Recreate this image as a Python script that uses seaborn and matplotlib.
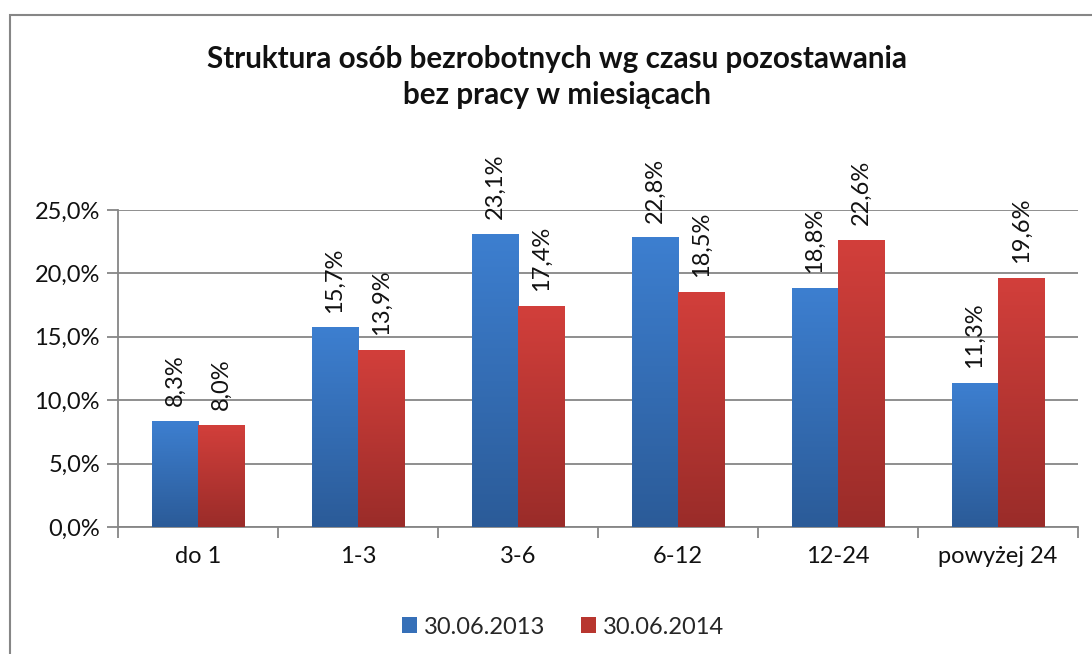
import numpy as np
import pandas as pd
import matplotlib
matplotlib.use("Agg")
import matplotlib.pyplot as plt
from matplotlib.patches import Rectangle, Patch
from matplotlib.colors import LinearSegmentedColormap
import seaborn as sns

categories = ["do 1", "1-3", "3-6", "6-12", "12-24", "powyżej 24"]
series_names = ["30.06.2013", "30.06.2014"]
values_2013 = [8.3, 15.7, 23.1, 22.8, 18.8, 11.3]
values_2014 = [8.0, 13.9, 17.4, 18.5, 22.6, 19.6]
y_ticks = [0, 5, 10, 15, 20, 25]
title = "Struktura osób bezrobotnych wg czasu pozostawania\nbez pracy w miesiącach"

sns.set_theme(style="white")
plt.rcParams["font.family"] = ["Lato", "DejaVu Sans"]

df = pd.DataFrame({
    "cat": categories * 2,
    "series": [series_names[0]] * 6 + [series_names[1]] * 6,
    "val": values_2013 + values_2014,
})

top_cols = ["#3d7fd0", "#d23f3b"]
bot_cols = ["#2b5b98", "#9a2c29"]
mid_cols = ["#3670b8", "#b8362f"]
FS = 17

fig = plt.figure(figsize=(10.92, 6.54), dpi=100)
ax = fig.add_axes([118/1092, 1-527/654, (1078-118)/1092, (527-210)/654])

sns.barplot(data=df, x="cat", y="val", hue="series", order=categories,
            hue_order=series_names, palette=mid_cols, width=0.58, gap=0,
            ax=ax, legend=False, zorder=3, linewidth=0)

# gradient fill
for ci, cont in enumerate(ax.containers):
    cmap = LinearSegmentedColormap.from_list("g%d" % ci, [bot_cols[ci], top_cols[ci]])
    for bar in cont:
        x = bar.get_x(); w = bar.get_width(); h = bar.get_height()
        grad = np.linspace(0, 1, 256).reshape(-1, 1)
        ax.imshow(grad, extent=[x, x + w, 0, h], origin="lower", aspect="auto",
                  cmap=cmap, zorder=3.5)
        bar.set_facecolor("none")
        txt = f"{h:.1f}%".replace(".", ",")
        ax.annotate(txt, (x + w/2, h), xytext=(0, 11), textcoords="offset points",
                    rotation=90, ha="center", va="bottom", fontsize=FS,
                    color="#111111", zorder=5)

ax.set_ylim(0, 25)
ax.set_xlim(-0.5, 5.5)

gray = "#868686"
ax.set_yticks(y_ticks)
ax.set_yticklabels([f"{t:.1f}%".replace(".", ",") for t in y_ticks], fontsize=FS, color="#111111")
ax.yaxis.grid(True, color=gray, linewidth=1.3, zorder=0)
ax.set_axisbelow(True)
ax.tick_params(axis="y", length=8, width=1.3, color=gray, direction="out", pad=5, left=True)
ax.set_xticks(range(len(categories)))
ax.set_xticklabels(categories, fontsize=FS, color="#111111")
ax.set_xticks(np.arange(-0.5, 6.0, 1.0), minor=True)
ax.tick_params(axis="x", which="major", length=0, pad=14)
ax.tick_params(axis="x", which="minor", length=8, width=1.3, color=gray, direction="out", bottom=True)
for s in ["top", "right"]:
    ax.spines[s].set_visible(False)
for s in ["left", "bottom"]:
    ax.spines[s].set_color(gray)
    ax.spines[s].set_linewidth(1.3)
ax.set_xlabel("")
ax.set_ylabel("")

# legend
handles = [Patch(facecolor=mid_cols[i], edgecolor="none") for i in range(2)]
fig.legend(handles, series_names, loc="center", bbox_to_anchor=(563/1092, 1-627/654),
           ncol=2, frameon=False, fontsize=FS, handlelength=0.65, handleheight=0.65,
           handletextpad=0.3, columnspacing=1.5)

fig.text(557/1092, 1-77/654, title, ha="center", va="center", fontsize=21.3,
         fontweight="bold", color="#111111", linespacing=1.38)

fig.patches.append(Rectangle((10/1092, -0.1), 1.2, (1-15/654) + 0.1,
                             transform=fig.transFigure, fill=False,
                             edgecolor=gray, linewidth=1.5))

fig.savefig("out.png", dpi=100)
